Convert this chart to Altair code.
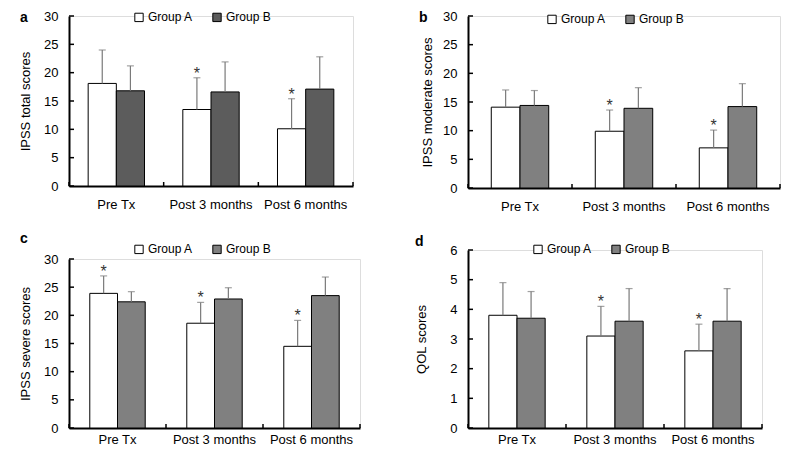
import altair as alt
import pandas as pd

# ---------------- data ----------------
categories = ["Pre Tx", "Post 3 months", "Post 6 months"]
groups = ["Group A", "Group B"]

# panel a: IPSS total scores
a_mean_A = [18.1, 13.5, 10.1]
a_sd_A = [5.9, 5.6, 5.3]
a_mean_B = [16.8, 16.6, 17.1]
a_sd_B = [4.4, 5.3, 5.7]
a_star_A = [False, True, True]

# panel b: IPSS moderate scores
b_mean_A = [14.1, 9.9, 7.0]
b_sd_A = [3.0, 3.7, 3.1]
b_mean_B = [14.4, 13.9, 14.2]
b_sd_B = [2.6, 3.6, 4.0]
b_star_A = [False, True, True]

# panel c: IPSS severe scores
c_mean_A = [23.9, 18.6, 14.5]
c_sd_A = [3.1, 3.7, 4.6]
c_mean_B = [22.4, 22.9, 23.5]
c_sd_B = [1.8, 2.0, 3.3]
c_star_A = [True, True, True]

# panel d: QOL scores
d_mean_A = [3.8, 3.1, 2.6]
d_sd_A = [1.1, 1.0, 0.9]
d_mean_B = [3.7, 3.6, 3.6]
d_sd_B = [0.9, 1.1, 1.1]
d_star_A = [False, True, True]

ticks_ipss = [0, 5, 10, 15, 20, 25, 30]
ticks_qol = [0, 1, 2, 3, 4, 5, 6]

FONT = "Liberation Sans"


def make_df(mA, sA, mB, sB, starA):
    rows = []
    for i, c in enumerate(categories):
        rows.append(dict(cat=c, grp="Group A", mean=mA[i], top=mA[i] + sA[i], star=starA[i]))
        rows.append(dict(cat=c, grp="Group B", mean=mB[i], top=mB[i] + sB[i], star=False))
    return pd.DataFrame(rows)


def panel(df, ticks, letter, ytitle, w, h, colorB, po, legx, legy, lx, ly, tp, xlp):
    ymax = ticks[-1]
    xsc = alt.Scale(paddingInner=0, paddingOuter=0)
    xax = alt.Axis(title=None, labelAngle=0, labelFont=FONT, labelFontSize=13,
                   labelColor="black", labelPadding=xlp, ticks=False, tickSize=0,
                   domainColor="black", domainWidth=2)
    xenc = alt.X("cat:N", sort=categories, scale=xsc, axis=xax)
    xoff = alt.XOffset("grp:N", sort=groups, scale=alt.Scale(paddingInner=0, paddingOuter=po))
    yscale = alt.Scale(domain=[0, ymax], nice=False, zero=True)
    yax = alt.Axis(title=ytitle, values=ticks, grid=False, ticks=False, tickSize=0,
                   labelOverlap=False,
                   labelFont=FONT, labelFontSize=13, labelColor="black",
                   labelPadding=11, titleFont=FONT, titleFontSize=13,
                   titleFontWeight="normal", titleColor="black", titlePadding=tp,
                   domainColor="black", domainWidth=2)
    base = alt.Chart(df)
    err = base.mark_rule(color="#7a7a7a", strokeWidth=1.2).encode(
        x=xenc, xOffset=xoff,
        y=alt.Y("mean:Q", scale=yscale, axis=yax), y2="top:Q")
    cap = base.mark_tick(color="#7a7a7a", thickness=1.2, size=7, orient="horizontal").encode(
        x=xenc, xOffset=xoff, y=alt.Y("top:Q", scale=yscale, axis=yax))
    bars = base.mark_bar(stroke="black", strokeWidth=1).encode(
        x=xenc, xOffset=xoff, y=alt.Y("mean:Q", scale=yscale, axis=yax),
        fill=alt.Fill("grp:N", sort=groups,
                      scale=alt.Scale(domain=groups, range=["white", colorB]),
                      legend=alt.Legend(title=None, orient="none", legendX=legx, legendY=legy,
                                        direction="horizontal", columns=2, symbolType="square",
                                        symbolSize=70, symbolStrokeColor="black",
                                        symbolStrokeWidth=1, labelFont=FONT, labelFontSize=12,
                                        labelColor="black", labelOffset=3, columnPadding=17)))
    stars = base.transform_filter("datum.star").mark_text(
        text="*", fontSize=16, font=FONT, color="#333333", baseline="alphabetic", dy=1).encode(
        x=xenc, xOffset=xoff, y=alt.Y("top:Q", scale=yscale, axis=yax))
    tdf = pd.DataFrame({"t": ticks})
    yticks = alt.Chart(tdf).mark_rule(color="black", strokeWidth=1.5).encode(
        y=alt.Y("t:Q", scale=yscale, axis=yax), x=alt.value(0), x2=alt.value(5))
    cdf = pd.DataFrame({"cat": categories})
    xticks = alt.Chart(cdf).mark_rule(color="black", strokeWidth=1.5).encode(
        x=alt.X("cat:N", sort=categories, scale=xsc, axis=xax, bandPosition=0),
        y=alt.value(h), y2=alt.value(h - 4))
    xend = alt.Chart(cdf.head(1)).mark_rule(color="black", strokeWidth=1.5).encode(
        x=alt.value(w), y=alt.value(h), y2=alt.value(h - 4))
    lab = alt.Chart(pd.DataFrame({"l": [letter]})).mark_text(
        font=FONT, fontSize=14, fontWeight="bold", align="left", baseline="alphabetic",
        color="black").encode(text="l:N", x=alt.value(lx), y=alt.value(ly))
    return alt.layer(bars, err, cap, stars, yticks, xticks, xend, lab).properties(
        width=w, height=h)


pa = panel(make_df(a_mean_A, a_sd_A, a_mean_B, a_sd_B, a_star_A), ticks_ipss, "a",
           "IPSS total scores", 284, 170, "#5c5c5c", 0.68, 64, -5, -49, 6, 11, 12)
pb = panel(make_df(b_mean_A, b_sd_A, b_mean_B, b_sd_B, b_star_A), ticks_ipss, "b",
           "IPSS moderate scores", 312, 172, "#808080", 0.81, 78, -3, -49, 6, 8, 12)
pc = panel(make_df(c_mean_A, c_sd_A, c_mean_B, c_sd_B, c_star_A), ticks_ipss, "c",
           "IPSS severe scores", 291, 169, "#808080", 0.75, 64, -16, -49, -16, 11, 5)
pd_ = panel(make_df(d_mean_A, d_sd_A, d_mean_B, d_sd_B, d_star_A), ticks_qol, "d",
            "QOL scores", 294, 178, "#808080", 0.74, 64, -7, -53, -4, 21, 5)

res = dict(x="independent", y="independent", xOffset="independent", fill="independent")
col1 = alt.vconcat(pa, pc, spacing=19).resolve_scale(**res)
col2 = alt.vconcat(pb, pd_, spacing=20).resolve_scale(**res)

chart = alt.hconcat(col1, col2, spacing=52).resolve_scale(**res).properties(
    padding={"left": 11, "top": 1, "right": 0, "bottom": 0}
).configure_view(stroke=None).configure(background="white")

chart.save("out.html", embed_options={"renderer": "svg", "actions": False})
